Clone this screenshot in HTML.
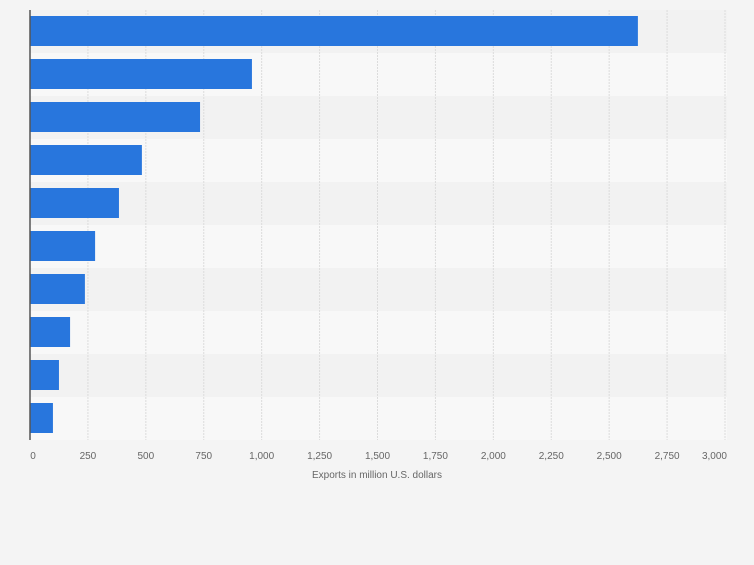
<!DOCTYPE html>
<html><head><meta charset="utf-8"><style>
body{margin:0;background:#f4f4f4;font-family:"Liberation Sans",sans-serif}
</style></head><body>
<svg id="chart" width="754" height="560" xmlns="http://www.w3.org/2000/svg"></svg>
<script>
const categories=["C1","C2","C3","C4","C5","C6","C7","C8","C9","C10"];
const values=[2624,958,734,483,384,281,237,173,125,99];
const ticks=[0,250,500,750,1000,1250,1500,1750,2000,2250,2500,2750,3000];
const tickLabels=["0","250","500","750","1,000","1,250","1,500","1,750","2,000","2,250","2,500","2,750","3,000"];
const svg=document.getElementById('chart');
const NS="http://www.w3.org/2000/svg";
const X0=30,X1=725,Y0=10,Y1=440,MAX=3000;
const x=v=>X0+(v/MAX)*(X1-X0);
const band=(Y1-Y0)/categories.length;
function mk(t,a,p){const e=document.createElementNS(NS,t);for(const k in a)e.setAttribute(k,a[k]);(p||svg).appendChild(e);return e;}
categories.forEach((c,i)=>{
  const r=mk('rect',{x:X0,y:Y0+i*band,width:X1-X0+2,height:band,fill:i%2?'#f8f8f8':'#f2f2f2'});
  
  
});
ticks.forEach((t,i)=>{
  if(i>0){const g=mk('line',{x1:x(t),x2:x(t),y1:Y0,y2:Y1,stroke:'#dcdcdc','stroke-dasharray':'2,1'});
  
  }
  const last=i==ticks.length-1;
  const l=mk('text',{x:last?x(t)+2:x(t)+(i==0?3:0),y:459,'text-anchor':last?'end':'middle','font-size':'10',fill:'#666'});
  l.textContent=tickLabels[i];
  
  
});
values.forEach((v,i)=>{
  const b=mk('rect',{x:X0,y:Y0+i*band+6,width:x(v)-X0,height:band-13,fill:'#2876dd'});
  
  
});
const ax=mk('line',{x1:X0,x2:X0,y1:Y0,y2:Y1,stroke:'#555','stroke-width':1.5});


const tt=mk('text',{x:377,y:478,'text-anchor':'middle','font-size':'10',fill:'#666'});
tt.textContent='Exports in million U.S. dollars';


</script>
</body></html>
